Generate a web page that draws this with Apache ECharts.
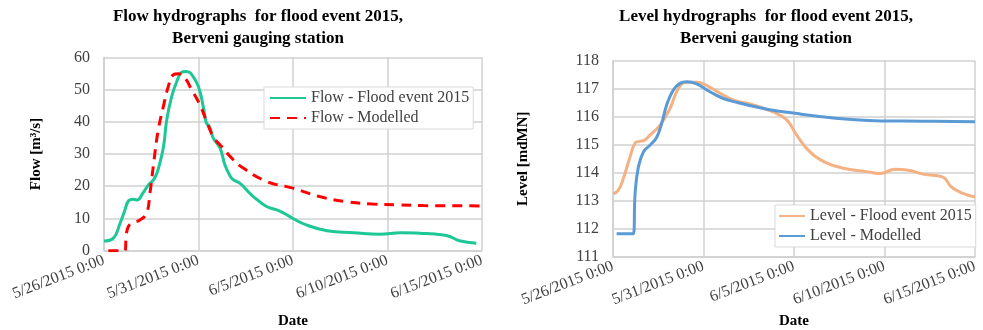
<!DOCTYPE html>
<html>
<head>
<meta charset="utf-8">
<script src="https://cdn.jsdelivr.net/npm/echarts@6/dist/echarts.min.js"></script>
<style>
  html, body { margin: 0; padding: 0; background: #fff; }
  #chart { width: 983px; height: 330px; }
</style>
</head>
<body>
<div id="chart"></div>
<script>
// Time axis: days since 5/26/2015 0:00
const dateTickLabels = ['5/26/2015 0:00', '5/31/2015 0:00', '6/5/2015 0:00', '6/10/2015 0:00', '6/15/2015 0:00'];

// Flow - Flood event 2015 (m3/s)
const flowObsDays = [0, 0.5, 0.85, 1.1, 1.3, 1.55, 1.75, 2.05, 2.35, 2.7, 2.95, 3.15, 3.32, 3.58, 3.85, 4.1, 4.3, 4.5, 4.65, 5.0, 5.25, 5.42, 5.6, 5.78, 6.14, 6.4, 6.67, 6.84, 7.2, 7.6, 7.9, 8.6, 9.3, 10.0, 10.7, 11.8, 13.2, 14.6, 15.7, 16.7, 17.95, 18.3, 18.8, 19.7];
const flowObsValues = [3.0, 3.9, 8.5, 12.5, 15.5, 16.0, 15.7, 17.8, 20.4, 22.7, 27.1, 32.3, 40.6, 47.8, 52.5, 55.3, 55.6, 55.4, 54.6, 50.9, 44.7, 39.6, 38.3, 34.9, 31.8, 26.6, 23.2, 22.0, 20.9, 18.5, 16.8, 13.7, 12.3, 10.0, 8.0, 6.2, 5.6, 5.1, 5.6, 5.4, 4.9, 4.4, 3.1, 2.3];

// Flow - Modelled (m3/s)
const flowModDays = [0.23, 1.1, 1.18, 1.29, 1.47, 1.9, 2.25, 2.43, 2.65, 2.87, 3.14, 3.4, 3.67, 3.93, 4.29, 4.64, 5.08, 5.43, 5.78, 6.22, 6.84, 7.3, 8.6, 10.0, 11.4, 12.8, 14.2, 15.6, 16.9, 19.9];
const flowModValues = [0, 0, 5, 7.5, 8.5, 9.5, 11.6, 17.8, 28.2, 37.5, 44.7, 50.9, 54.6, 54.9, 53.5, 49.9, 45.2, 40.1, 35.4, 32.3, 28.2, 25.9, 21.5, 19.4, 16.8, 15.2, 14.5, 14.2, 14.0, 13.9];

// Level - Flood event 2015 (mdMN)
const levelObsDays = [0, 0.29, 0.57, 0.94, 1.22, 1.45, 1.68, 2.04, 2.6, 3.15, 3.61, 4.07, 4.63, 5.36, 6.1, 6.8, 7.48, 8.58, 9.32, 9.69, 10.15, 10.8, 11.7, 12.8, 14.1, 14.75, 15.6, 16.3, 17.2, 18.2, 18.7, 19.3, 20.0];
const levelObsValues = [113.25, 113.37, 113.79, 114.56, 115.06, 115.12, 115.14, 115.34, 115.7, 116.3, 117.0, 117.23, 117.23, 117.05, 116.77, 116.56, 116.47, 116.24, 116.02, 115.82, 115.34, 114.8, 114.38, 114.15, 114.03, 113.97, 114.12, 114.09, 113.94, 113.85, 113.49, 113.27, 113.13];

// Level - Modelled (mdMN)
const levelModDays = [0.2, 1.12, 1.22, 1.4, 1.68, 2.04, 2.41, 2.69, 2.96, 3.33, 3.7, 4.07, 4.62, 5.36, 6.1, 6.92, 7.48, 8.58, 10.06, 11.5, 13.0, 14.8, 17.05, 20.0];
const levelModValues = [111.82, 111.82, 113.25, 114.2, 114.74, 114.98, 115.26, 115.76, 116.41, 116.95, 117.19, 117.25, 117.17, 116.89, 116.65, 116.5, 116.41, 116.26, 116.12, 116.0, 115.91, 115.85, 115.84, 115.82];

const pairs = (xs, ys) => xs.map((x, i) => [x, ys[i]]);

const SERIF = '"Liberation Serif", "Times New Roman", serif';
const GRID_COLOR = '#D0D0D0';
const TICK_COLOR = '#404040';

function xAxisFor(gridIndex, nameGap) {
  return {
    gridIndex,
    type: 'value',
    min: 0, max: 20, interval: 5,
    name: 'Date',
    nameLocation: 'middle',
    nameGap,
    nameTextStyle: { fontFamily: SERIF, fontWeight: 'bold', fontSize: 15, color: '#000' },
    axisLine: { show: true, lineStyle: { color: GRID_COLOR, width: 1.5 } },
    axisTick: { show: false },
    splitLine: { show: true, lineStyle: { color: GRID_COLOR, width: 1.5 } },
    axisLabel: {
      rotate: 21,
      margin: 9,
      fontFamily: SERIF, fontSize: 16, color: TICK_COLOR,
      formatter: v => dateTickLabels[Math.round(v / 5)] || ''
    }
  };
}

function yAxisFor(gridIndex, min, max, step, name, nameGap) {
  return {
    gridIndex,
    type: 'value',
    min, max, interval: step,
    name,
    nameLocation: 'middle',
    nameGap,
    nameTextStyle: { fontFamily: SERIF, fontWeight: 'bold', fontSize: 15, color: '#000' },
    axisLine: { show: true, lineStyle: { color: GRID_COLOR, width: 1.5 } },
    axisTick: { show: false },
    splitLine: { show: true, lineStyle: { color: GRID_COLOR, width: 1.5 } },
    axisLabel: { margin: 14, fontFamily: SERIF, fontSize: 16, color: TICK_COLOR }
  };
}

const legendText = { fontFamily: SERIF, fontSize: 16, color: TICK_COLOR };
// line-only legend keys (hide the default marker drawn on the line)
const legendKeyStyle = { opacity: 0 };

const lineSeries = (name, axis, xs, ys, color, dash) => ({
  name, type: 'line', xAxisIndex: axis, yAxisIndex: axis,
  data: pairs(xs, ys),
  smooth: 0.45, showSymbol: false, symbol: 'none',
  itemStyle: { color },
  lineStyle: { color, width: 3, type: dash || 'solid', cap: 'butt' }
});

const option = {
  animation: false,
  backgroundColor: '#fff',
  title: [
    {
      text: 'Flow hydrographs  for flood event 2015,\nBerveni gauging station',
      left: 253, top: 1, textAlign: 'center',
      textStyle: { fontFamily: SERIF, fontWeight: 'bold', fontSize: 17, color: '#000', lineHeight: 22, align: 'center' }
    },
    {
      text: 'Level hydrographs  for flood event 2015,\nBerveni gauging station',
      left: 761, top: 1, textAlign: 'center',
      textStyle: { fontFamily: SERIF, fontWeight: 'bold', fontSize: 17, color: '#000', lineHeight: 22, align: 'center' }
    }
  ],
  grid: [
    { left: 104, top: 57.3, width: 378, height: 193.4, outerBoundsMode: 'none', containLabel: false },
    { left: 613, top: 60.7, width: 362, height: 196, outerBoundsMode: 'none', containLabel: false }
  ],
  legend: [
    {
      orient: 'vertical', left: 264, top: 87,
      padding: [3, 4, 3, 5], itemGap: 4,
      itemWidth: 36, itemHeight: 14,
      backgroundColor: '#fff', borderColor: '#D9D9D9', borderWidth: 1,
      itemStyle: legendKeyStyle,
      textStyle: legendText,
      data: ['Flow - Flood event 2015', 'Flow - Modelled']
    },
    {
      orient: 'vertical', left: 775, top: 205,
      padding: [3, 4, 3, 3], itemGap: 4,
      itemWidth: 26, itemHeight: 14,
      backgroundColor: '#fff', borderColor: '#D9D9D9', borderWidth: 1,
      itemStyle: legendKeyStyle,
      textStyle: legendText,
      data: ['Level - Flood event 2015', 'Level - Modelled']
    }
  ],
  xAxis: [xAxisFor(0, 63), xAxisFor(1, 57)],
  yAxis: [
    yAxisFor(0, 0, 60, 10, 'Flow [m³/s]', 60),
    yAxisFor(1, 111, 118, 1, 'Level [mdMN]', 82)
  ],
  series: [
    lineSeries('Flow - Flood event 2015', 0, flowObsDays, flowObsValues, '#1DC796'),
    lineSeries('Flow - Modelled', 0, flowModDays, flowModValues, '#FF0000', [10, 7]),
    lineSeries('Level - Flood event 2015', 1, levelObsDays, levelObsValues, '#F4B183'),
    lineSeries('Level - Modelled', 1, levelModDays, levelModValues, '#5B9BD5')
  ]
};

const chart = echarts.init(document.getElementById('chart'), null, { renderer: 'canvas' });
chart.setOption(option);
</script>
</body>
</html>
